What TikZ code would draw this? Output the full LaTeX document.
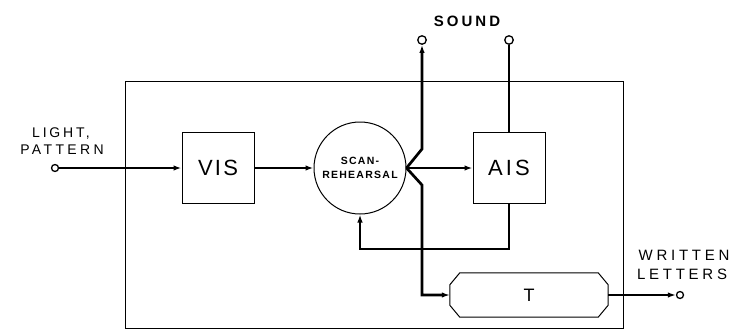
\documentclass[tikz,border=0pt]{standalone}
\usepackage{fontspec}
\setmainfont{Liberation Sans}
\newcommand{\lsp}[1]{\addfontfeature{LetterSpace=#1}}
\usetikzlibrary{arrows.meta}
\begin{document}
\begin{tikzpicture}[x=1pt,y=-1pt,
  sig/.style={line width=2.7pt},
  arr/.style={-{Latex[length=8pt,width=5.5pt]}},
  box/.style={draw,line width=1pt,inner sep=0pt},
  term/.style={circle,draw,line width=1.3pt,inner sep=0pt,minimum size=7pt,fill=white},
  lbl/.style={inner sep=0pt,anchor=base}]
\useasboundingbox (0,0) rectangle (730,332);
% frame
\node[box,minimum width=498pt,minimum height=247pt] (frame) at (374,204.5) {};
% blocks
\node[box,minimum width=72pt,minimum height=71pt,font=\fontsize{22}{24}\selectfont\lsp{10}] (VIS) at (218,168) {VIS};
\node[box,circle,minimum size=92pt,align=center,font=\fontsize{10.5}{14}\selectfont\bfseries\lsp{12}] (SR) at (360,168) {SCAN-\\REHEARSAL};
\node[box,minimum width=72pt,minimum height=71pt,font=\fontsize{22}{24}\selectfont\lsp{14}] (AIS) at (509,168) {AIS};
\node[minimum width=158pt,minimum height=44pt,inner sep=0pt,font=\fontsize{18}{20}\selectfont] (T) at (529,295) {T};
\draw[line width=1pt] ([xshift=10pt]T.north west) -- ([xshift=-10pt]T.north east) -- ([yshift=-12pt]T.north east) -- ([yshift=12pt]T.south east) -- ([xshift=-10pt]T.south east) -- ([xshift=10pt]T.south west) -- ([yshift=12pt]T.south west) -- ([yshift=-12pt]T.north west) -- cycle;
% terminals
\node[term] (in) at (55,168) {};
\node[term,minimum size=8.5pt] (s1) at (422,40) {};
\node[term,minimum size=8.5pt] (s2) at (509,40) {};
\node[term] (out) at (680,295) {};
% labels
\node[lbl,font=\fontsize{14}{16}\selectfont\lsp{20}] (light) at (61,137) {LIGHT,};
\node[lbl,font=\fontsize{14}{16}\selectfont\lsp{24}] (pattern) at (62,154) {PATTERN};
\node[lbl,font=\fontsize{15}{17}\selectfont\bfseries\lsp{20}] (sound) at (467,26) {SOUND};
\node[lbl,font=\fontsize{15}{17}\selectfont\lsp{25}] (written) at (684,260) {WRITTEN};
\node[lbl,font=\fontsize{15}{17}\selectfont\lsp{25}] (letters) at (682,279) {LETTERS};
% coordinates
\coordinate (k1) at (422,149);
\coordinate (k2) at (422,185);
\coordinate (tc) at (422,295);
\coordinate (fa) at (509,249);
\coordinate (fb) at (360,249);
% connectors
\draw[sig,arr] (in) -- (VIS);
\draw[sig,arr] (VIS) -- (SR);
\draw[sig,arr] (SR.east) -- (AIS);
\draw[sig,arr] (SR.east) -- (k1) -- (s1);
\draw[sig,arr] (SR.east) -- (k2) -- (tc) -- (T);
\draw[sig] (s2) -- (AIS);
\draw[sig,arr] (AIS) -- (fa) -- (fb) -- (SR);
\draw[sig,arr] (T) -- (out);
\end{tikzpicture}
\end{document}
